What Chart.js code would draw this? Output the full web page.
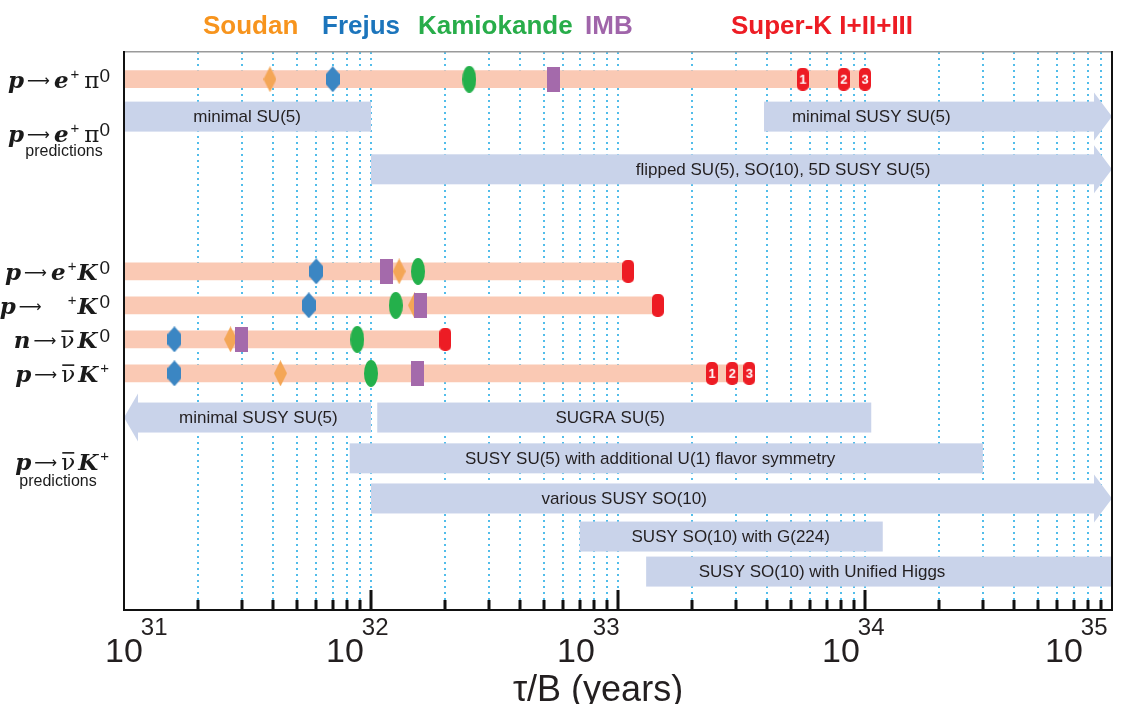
<!DOCTYPE html>
<html>
<head>
<meta charset="utf-8">
<script src="https://cdn.jsdelivr.net/npm/chart.js@4"></script>
<style>
  html, body { margin: 0; padding: 0; background: #fff; }
</style>
</head>
<body>
<canvas id="grafico-decaimento" width="1137" height="704"></canvas>
<script>
// Limites de vida média parcial (tau/B, em anos)
const channels = ['p → e+ π0', 'p → e+ K0', 'p → μ+ K0', 'n → ν̄ K0', 'p → ν̄ K+'];
const soudan     = [3.9e31, 1.3e32, 1.5e32, 2.7e31, 4.3e31];
const frejus     = [7.0e31, 6.0e31, 5.6e31, 1.6e31, 1.6e31];
const kamiokande = [2.5e32, 1.55e32, 1.26e32, 8.8e31, 1.0e32];
const imb        = [5.5e32, 1.16e32, 1.58e32, 3.0e31, 1.54e32];
// Super-K: fase I, I+II, I+II+III (null = só um resultado)
const superK1   = [5.6e33, null, null, null, 2.4e33];
const superK12  = [8.2e33, null, null, null, 2.9e33];
const superK123 = [1.0e34, 1.1e33, 1.45e33, 2.0e32, 3.4e33];

// Previsões teóricas
const predLabels = ['minimal SU(5)', 'minimal SUSY SU(5)', 'flipped SU(5), SO(10), 5D SUSY SU(5)',
  'minimal SUSY SU(5)', 'SUGRA SU(5)', 'SUSY SU(5) with additional U(1) flavor symmetry',
  'various SUSY SO(10)', 'SUSY SO(10) with G(224)', 'SUSY SO(10) with Unified Higgs'];
const predLow   = [1e31, 3.9e33, 1e32, 1e31, 1.06e32, 8.2e31, 1e32, 7.0e32, 1.3e33];
const predHigh  = [1e32, 1e35, 1e35, 1e32, 1.06e34, 3.0e34, 1e35, 1.18e34, 1e35];
const predArrow = ['', 'right', 'right', 'left', '', '', 'right', '', ''];
const predTextAt = [3.15e31, 1.06e34, 4.66e33, 3.5e31, 9.3e32, 1.35e33, 1.06e33, 2.86e33, 6.7e33];

// Eixo x: expoentes das décadas
const tickExponents = [31, 32, 33, 34, 35];

// ---- layout (posição das linhas no eixo y, em unidades de linha) ----
const channelRow = [0.8, 6.45, 7.45, 8.45, 9.45];
const predRow = [1.9, 1.9, 3.45, 10.75, 10.75, 11.95, 13.13, 14.25, 15.28];
const expLabelShift = [-19, -45, -61, -43, -67];

const cores = {
  soudan: '#f4a656', frejus: '#3b86c3', kamiokande: '#24b04b', imb: '#a46aab', superK: '#ed1c24',
  barra: '#fac9b4', previsao: '#c9d3ea', grade: '#52bdea', texto: '#231f20'
};

// marcadores desenhados em canvas (usados como pointStyle)
function marcador(w, h, desenha) {
  const c = document.createElement('canvas');
  c.width = w; c.height = h;
  const g = c.getContext('2d');
  desenha(g, w, h);
  return c;
}
const imgSoudan = marcador(13, 26, (g, w, h) => {
  g.fillStyle = cores.soudan;
  g.beginPath(); g.moveTo(w / 2, 0); g.lineTo(w, h / 2); g.lineTo(w / 2, h); g.lineTo(0, h / 2); g.closePath(); g.fill();
});
const imgFrejus = marcador(14, 26, (g, w, h) => {
  g.fillStyle = cores.frejus;
  g.beginPath(); g.moveTo(w / 2, 0); g.lineTo(w, 8); g.lineTo(w, h - 8); g.lineTo(w / 2, h); g.lineTo(0, h - 8); g.lineTo(0, 8); g.closePath(); g.fill();
});
const imgKamioka = marcador(14, 27, (g, w, h) => {
  g.fillStyle = cores.kamiokande;
  g.beginPath(); g.ellipse(w / 2, h / 2, w / 2, h / 2, 0, 0, Math.PI * 2); g.fill();
});
const imgImb = marcador(13, 25, (g, w, h) => {
  g.fillStyle = cores.imb;
  g.fillRect(0, 0, w, h);
});
function imgSuperK(num) {
  return marcador(12, 23, (g, w, h) => {
    g.fillStyle = cores.superK;
    g.beginPath(); g.roundRect(0, 0, w, h, 5); g.fill();
    if (num) {
      g.fillStyle = '#fff';
      g.font = 'bold 13px "Liberation Sans Narrow", "Liberation Sans", sans-serif';
      g.textAlign = 'center'; g.textBaseline = 'middle';
      g.fillText(num, w / 2, h / 2 + 1);
    }
  });
}
const imgsSK = { '': imgSuperK(''), '1': imgSuperK('1'), '2': imgSuperK('2'), '3': imgSuperK('3') };

function pontos(valores) {
  return valores.map((v, i) => ({ x: v, y: channelRow[i] })).filter(p => p.x != null);
}
const pontosSK = [];
channels.forEach((c, i) => {
  const temFases = superK1[i] != null;
  if (temFases) pontosSK.push({ x: superK1[i], y: channelRow[i], run: '1' });
  if (superK12[i] != null) pontosSK.push({ x: superK12[i], y: channelRow[i], run: '2' });
  pontosSK.push({ x: superK123[i], y: channelRow[i], run: temFases ? '3' : '' });
});

// grade: 1..9 x 10^n
const gradeValores = [];
tickExponents.slice(0, -1).forEach(e => { for (let m = 1; m <= 9; m++) gradeValores.push(m * Math.pow(10, e)); });
gradeValores.push(Math.pow(10, tickExponents[tickExponents.length - 1]));

// rótulos da esquerda (segmentos com estilo)
const estilos = {
  bi:   { font: 'bold italic 23px "DejaVu Serif"', dy: 0, gap: 2 },
  ar:   { font: '16px "DejaVu Sans"', dy: -2, gap: 4, pre: 1 },
  rm:   { font: '23px "DejaVu Serif"', dy: 0, gap: 0, pre: 4 },
  nu:   { font: '23px "DejaVu Serif"', dy: 0, gap: 3, bar: true },
  sup:  { font: '15px "Liberation Sans"', dy: -9, gap: 1 },
  sup0: { font: '19px "Liberation Sans"', dy: -6, gap: 0 },
  sp:   { font: '23px "DejaVu Serif"', dy: 0, gap: 0 }
};
const rotulosCanais = [
  [['p', 'bi'], ['⟶', 'ar'], ['e', 'bi'], ['+', 'sup'], ['π', 'rm'], ['0', 'sup0']],
  [['p', 'bi'], ['⟶', 'ar'], ['e', 'bi'], ['+', 'sup'], ['K', 'bi'], ['0', 'sup0']],
  [['p', 'bi'], ['⟶', 'ar'], ['   ', 'sp'], ['+', 'sup'], ['K', 'bi'], ['0', 'sup0']],
  [['n', 'bi'], ['⟶', 'ar'], ['ν', 'nu'], ['K', 'bi'], ['0', 'sup0']],
  [['p', 'bi'], ['⟶', 'ar'], ['ν', 'nu'], ['K', 'bi'], ['+', 'sup']]
];
const cabecalhosPrev = [
  { segs: rotulosCanais[0], y: 2.38, yPred: 2.94, xPred: 64 },
  { segs: rotulosCanais[4], y: 12.03, yPred: 12.62, xPred: 58 }
];

function textoRico(ctx, segs, direita, base) {
  let w = 0;
  const med = segs.map(([t, k]) => {
    const st = estilos[k];
    ctx.font = st.font;
    const m = ctx.measureText(t).width;
    w += (st.pre || 0) + m + st.gap;
    return m;
  });
  let x = direita - w;
  segs.forEach(([t, k], i) => {
    const st = estilos[k];
    x += st.pre || 0;
    ctx.font = st.font;
    ctx.fillText(t, x, base + st.dy);
    if (st.bar) {
      ctx.fillRect(x + 1, base - 18, med[i] - 2, 1.6);
    }
    x += med[i] + st.gap;
  });
}

const legenda = [
  ['Soudan', 203, '#f7941d'], ['Frejus', 322, '#1c75bc'],
  ['Kamiokande', 418, '#28ad4a'], ['IMB', 585, '#a065aa'],
  ['Super-K I+II+III', 731, '#ed1c24']
];

const IDX_PREV = 0;
const desenho = {
  id: 'desenho',
  beforeDatasetDraw(chart, args) {
    if (args.index !== IDX_PREV) return;
    const ctx = chart.ctx;
    const xs = chart.scales.x;
    ctx.save();
    args.meta.data.forEach((el, i) => {
      const { x, y, base, height } = el.getProps(['x', 'y', 'base', 'height'], true);
      const esq = Math.min(x, base), dir = Math.max(x, base);
      const top = y - height / 2;
      ctx.fillStyle = cores.previsao;
      if (predArrow[i] === 'right') {
        ctx.fillRect(esq, top, dir - 18 - esq, height);
        ctx.beginPath(); ctx.moveTo(dir - 18, y - 24); ctx.lineTo(dir, y); ctx.lineTo(dir - 18, y + 24); ctx.closePath(); ctx.fill();
      } else if (predArrow[i] === 'left') {
        ctx.fillRect(esq + 14, top, dir - esq - 14, height);
        ctx.beginPath(); ctx.moveTo(esq + 14, y - 24); ctx.lineTo(esq, y); ctx.lineTo(esq + 14, y + 24); ctx.closePath(); ctx.fill();
      } else {
        ctx.fillRect(esq, top, dir - esq, height);
      }
      ctx.fillStyle = cores.texto;
      ctx.font = '17px "Liberation Sans", Arial, sans-serif';
      ctx.textAlign = 'center'; ctx.textBaseline = 'middle';
      ctx.fillText(predLabels[i], xs.getPixelForValue(predTextAt[i]), y + 1);
    });
    ctx.restore();
    return false;
  },
  afterDraw(chart) {
    const ctx = chart.ctx;
    const a = chart.chartArea;
    const xs = chart.scales.x, ys = chart.scales.y;
    ctx.save();
    // moldura
    ctx.fillStyle = '#9a9a9a';
    ctx.fillRect(a.left, a.top - 1, a.right - a.left, 1.5);
    ctx.fillStyle = '#111';
    ctx.fillRect(a.left - 1, a.top - 1, 2, a.bottom - a.top + 2);
    ctx.fillRect(a.right - 1, a.top - 1, 2, a.bottom - a.top + 2);
    ctx.fillRect(a.left - 1, a.bottom - 1, a.right - a.left + 2, 2);
    // marcas do eixo x (para dentro)
    xs.ticks.forEach(t => {
      const px = Math.round(xs.getPixelForValue(t.value));
      if (px <= a.left + 1 || px >= a.right - 1) return;
      const maior = Math.abs(Math.log10(t.value) - Math.round(Math.log10(t.value))) < 1e-9;
      const len = maior ? 20 : 10;
      ctx.fillRect(px - 1.5, a.bottom - len, 3, len);
    });
    // rótulos 10^n
    ctx.fillStyle = cores.texto;
    ctx.textBaseline = 'alphabetic';
    ctx.textAlign = 'left';
    tickExponents.forEach((e, i) => {
      const px = xs.getPixelForValue(Math.pow(10, e));
      const x0 = px + expLabelShift[i];
      ctx.font = '34px "Liberation Sans", Arial, sans-serif';
      ctx.fillText('10', x0, 662);
      const w = ctx.measureText('10').width;
      ctx.font = '24px "Liberation Sans", Arial, sans-serif';
      ctx.fillText(String(e), x0 + w - 2, 635);
    });
    ctx.font = '36px "Liberation Sans", Arial, sans-serif';
    ctx.textAlign = 'center';
    ctx.fillText('τ/B (years)', 598, 701);
    // rótulos dos canais
    ctx.textAlign = 'left';
    ctx.fillStyle = '#1a1a1a';
    rotulosCanais.forEach((segs, i) => {
      textoRico(ctx, segs, 110, ys.getPixelForValue(channelRow[i]) + 9);
    });
    cabecalhosPrev.forEach(c => {
      ctx.textAlign = 'left';
      textoRico(ctx, c.segs, 110, ys.getPixelForValue(c.y) + 9);
      ctx.font = '16px "Liberation Sans", Arial, sans-serif';
      ctx.textAlign = 'center'; ctx.textBaseline = 'middle';
      ctx.fillText('predictions', c.xPred, ys.getPixelForValue(c.yPred));
      ctx.textBaseline = 'alphabetic';
    });
    // legenda em texto colorido
    ctx.textAlign = 'left';
    ctx.font = 'bold 26px "Liberation Sans", Arial, sans-serif';
    legenda.forEach(([t, x, cor]) => {
      ctx.fillStyle = cor;
      ctx.fillText(t, x, 34);
    });
    ctx.restore();
  }
};

const ctx = document.getElementById('grafico-decaimento').getContext('2d');
const grafico = new Chart(ctx, {
  type: 'bar',
  data: {
    datasets: [
      {
        label: 'predictions', indexAxis: 'y', grouped: false, barThickness: 30, order: 3,
        backgroundColor: cores.previsao,
        data: predLabels.map((t, i) => ({ x: [predLow[i], predHigh[i]], y: predRow[i] }))
      },
      {
        label: 'limits', indexAxis: 'y', grouped: false, barThickness: 17, order: 2,
        backgroundColor: cores.barra,
        data: channels.map((c, i) => ({ x: [1e31, superK123[i]], y: channelRow[i] }))
      },
      { type: 'scatter', label: 'Soudan', order: 0.4, pointStyle: imgSoudan, pointRadius: 6, data: pontos(soudan) },
      { type: 'scatter', label: 'Frejus', order: 0.3, pointStyle: imgFrejus, pointRadius: 6, data: pontos(frejus) },
      { type: 'scatter', label: 'Kamiokande', order: 0.2, pointStyle: imgKamioka, pointRadius: 6, data: pontos(kamiokande) },
      { type: 'scatter', label: 'IMB', order: 0.1, pointStyle: imgImb, pointRadius: 6, data: pontos(imb) },
      {
        type: 'scatter', label: 'Super-K I+II+III', order: 0, pointRadius: 6, data: pontosSK,
        pointStyle: c => imgsSK[(c.raw && c.raw.run) || '']
      }
    ]
  },
  options: {
    responsive: false,
    animation: false,
    events: [],
    layout: { padding: { left: 124, right: 25, top: 52, bottom: 94 } },
    plugins: { legend: { display: false }, tooltip: { enabled: false } },
    scales: {
      x: {
        type: 'logarithmic', position: 'bottom', offset: false,
        min: Math.pow(10, tickExponents[0]), max: Math.pow(10, tickExponents[tickExponents.length - 1]),
        afterBuildTicks: axis => { axis.ticks = gradeValores.map(v => ({ value: v })); },
        ticks: { display: false },
        grid: { color: cores.grade, lineWidth: 2, drawTicks: false, offset: false },
        border: { display: false, dash: [2, 4] }
      },
      y: {
        type: 'linear', display: false, reverse: true, offset: false, min: 0, max: 16.41,
        grid: { offset: false }
      }
    }
  },
  plugins: [desenho]
});
</script>
</body>
</html>
